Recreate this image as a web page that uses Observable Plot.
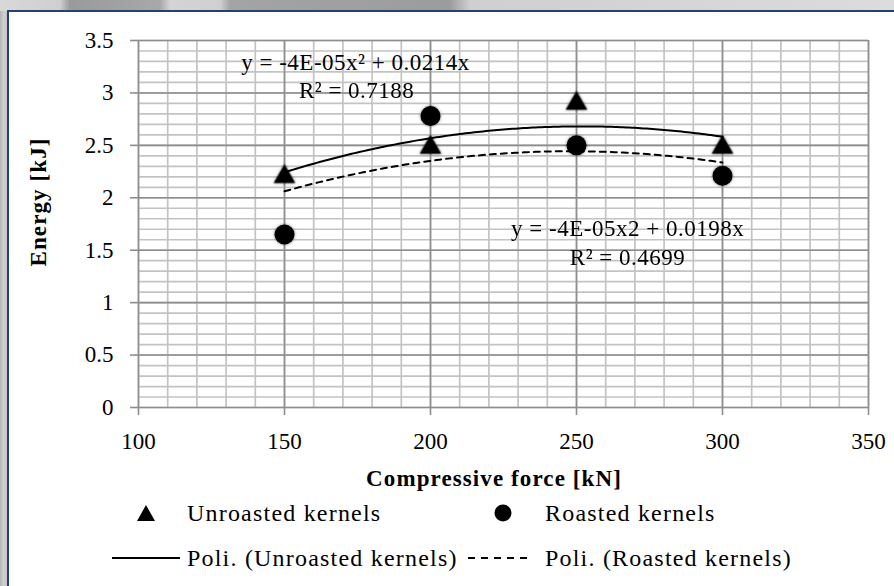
<!DOCTYPE html>
<html>
<head>
<meta charset="utf-8">
<script src="https://cdn.jsdelivr.net/npm/d3@7"></script>
<script src="https://cdn.jsdelivr.net/npm/@observablehq/plot@0.6"></script>
<style>
  html, body { margin: 0; padding: 0; }
  body {
    width: 894px; height: 586px; overflow: hidden; position: relative;
    background: linear-gradient(90deg, #b4b4b4 0px, #d2d2d2 4px, #c2c2c2 7px);
    font-family: "Liberation Serif", "DejaVu Serif", serif;
  }
  #topstrip {
    position: absolute; left: 0; top: 0; width: 894px; height: 11px;
    background: linear-gradient(90deg, #d8d8d8 0px, #cfcfcf 60px, #9a9a9a 70px, #a8a8a8 160px, #d4d4d4 170px, #d0d0d0 220px, #a4a4a4 230px, #9c9c9c 450px, #cfcfcf 470px, #dcdcdc 894px);
  }
  #frame {
    position: absolute; left: 7px; top: 10px; right: 0; bottom: 0;
    background: #ffffff;
    border-left: 2px solid #22407c; border-top: 2px solid #22407c;
  }
  #chart { position: absolute; left: 0; top: 0; }
  #chart svg g[aria-label="dot"] { filter: drop-shadow(0 0 1.5px rgba(0,0,0,0.55)); }
  #chart svg g[aria-label="text"] text { letter-spacing: 0.5px; }
  .lbl { position: absolute; font-size: 24px; color: #000; white-space: nowrap; line-height: 1; letter-spacing: 1.2px; }
  .title { font-weight: bold; letter-spacing: 1.1px; font-size: 23px; }
  .sym { position: absolute; }
</style>
</head>
<body>
<div id="topstrip"></div>
<div id="frame"></div>
<div id="chart"></div>
<div class="lbl title" id="ytitle" style="left:38px; top:202px; transform: translate(-50%,-50%) rotate(-90deg);">Energy [kJ]</div>
<div class="lbl title" id="xtitle" style="left:494px; top:478px; transform: translate(-50%,-50%);">Compressive force [kN]</div>

<svg class="sym" style="left:136px; top:504px;" width="20" height="18"><path d="M10,1 L19,17 L1,17 Z" fill="#000"/></svg>
<div class="lbl" style="left:187px; top:513px; transform: translateY(-50%);">Unroasted kernels</div>
<svg class="sym" style="left:494px; top:504px;" width="18" height="18"><circle cx="9" cy="9" r="8.5" fill="#000"/></svg>
<div class="lbl" style="left:545px; top:513px; transform: translateY(-50%);">Roasted kernels</div>

<svg class="sym" style="left:110px; top:550px;" width="72" height="16"><line x1="2" y1="8" x2="70" y2="8" stroke="#000" stroke-width="2"/></svg>
<div class="lbl" style="left:187px; top:558px; transform: translateY(-50%);">Poli. (Unroasted kernels)</div>
<svg class="sym" style="left:466px; top:550px;" width="66" height="16"><line x1="2" y1="8" x2="64" y2="8" stroke="#000" stroke-width="2" stroke-dasharray="7,6"/></svg>
<div class="lbl" style="left:545px; top:558px; transform: translateY(-50%);">Poli. (Roasted kernels)</div>

<script>
// ---- data ----
const force = [150, 200, 250, 300];
const unroasted = [2.2, 2.48, 2.9, 2.48];
const roasted = [1.65, 2.78, 2.5, 2.21];

const xTicks = [100, 150, 200, 250, 300, 350];
const yTicks = [0, 0.5, 1, 1.5, 2, 2.5, 3, 3.5];
const xMinor = d3.range(100, 351, 10);
const yMinor = d3.range(0, 36, 1).map(d => d / 10);

const eqText = ["y = -4E-05x² + 0.0214x", "R² = 0.7188", "y = -4E-05x2 + 0.0198x", "R² = 0.4699"];
const eqX = [174.3, 174.7, 267.5, 267.5];
const eqY = [3.29, 3.02, 1.71, 1.43];

// ---- derived tables ----
const points = [
  ...force.map((f, i) => ({x: f, y: unroasted[i], s: "Unroasted kernels"})),
  ...force.map((f, i) => ({x: f, y: roasted[i], s: "Roasted kernels"}))
];
const annotations = eqText.map((t, i) => ({text: t, x: eqX[i], y: eqY[i]}));

// 2nd-order polynomial trendline through the origin (least squares), as Excel does
function polyFit(xs, ys) {
  let s2 = 0, s3 = 0, s4 = 0, sxy = 0, sx2y = 0;
  xs.forEach((x, i) => {
    s2 += x * x; s3 += x ** 3; s4 += x ** 4; sxy += x * ys[i]; sx2y += x * x * ys[i];
  });
  const det = s4 * s2 - s3 * s3;
  const a = (sx2y * s2 - s3 * sxy) / det;
  const b = (s4 * sxy - s3 * sx2y) / det;
  return x => a * x * x + b * x;
}
const fU = polyFit(force, unroasted);
const fR = polyFit(force, roasted);
const xs = d3.range(force[0], force[force.length - 1] + 0.5, 1);
const trendU = xs.map(x => ({x, y: fU(x)}));
const trendR = xs.map(x => ({x, y: fR(x)}));

const majorColor = "#8e8e8e";
const minorColor = "#c3c3c3";

const chart = Plot.plot({
  width: 894,
  height: 470,
  marginLeft: 138,
  marginRight: 26,
  marginTop: 40,
  marginBottom: 63,
  style: {fontFamily: "'Liberation Serif', serif", fontSize: "23px", background: "transparent", color: "#000", overflow: "visible"},
  x: {domain: [100, 350], label: null},
  y: {domain: [0, 3.5], label: null},
  marks: [
    Plot.ruleX(xMinor, {stroke: minorColor, strokeWidth: 1.7}),
    Plot.ruleY(yMinor, {stroke: minorColor, strokeWidth: 1.7}),
    Plot.ruleX(xTicks, {stroke: majorColor, strokeWidth: 1.6}),
    Plot.ruleY(yTicks, {stroke: majorColor, strokeWidth: 1.6}),
    Plot.axisX(xTicks, {tickSize: 8, tickPadding: 17, stroke: majorColor, strokeWidth: 1.6, fill: "#000", fontSize: 23, tickFormat: d => String(d)}),
    Plot.axisY(yTicks, {tickSize: 8, tickPadding: 17, stroke: majorColor, strokeWidth: 1.6, fill: "#000", fontSize: 23, tickFormat: d => String(d)}),
    Plot.line(trendU, {x: "x", y: "y", stroke: "#000", strokeWidth: 2}),
    Plot.line(trendR, {x: "x", y: "y", stroke: "#000", strokeWidth: 2, strokeDasharray: "6,5"}),
    Plot.dot(points.filter(d => d.s === "Unroasted kernels"), {x: "x", y: "y", symbol: "triangle", r: 8, fill: "#000"}),
    Plot.dot(points.filter(d => d.s === "Roasted kernels"), {x: "x", y: "y", symbol: "circle", r: 10, fill: "#000"}),
    Plot.text(annotations, {x: "x", y: "y", text: "text", fontSize: 23, fill: "#000"})
  ]
});
document.getElementById("chart").appendChild(chart);
</script>
</body>
</html>
